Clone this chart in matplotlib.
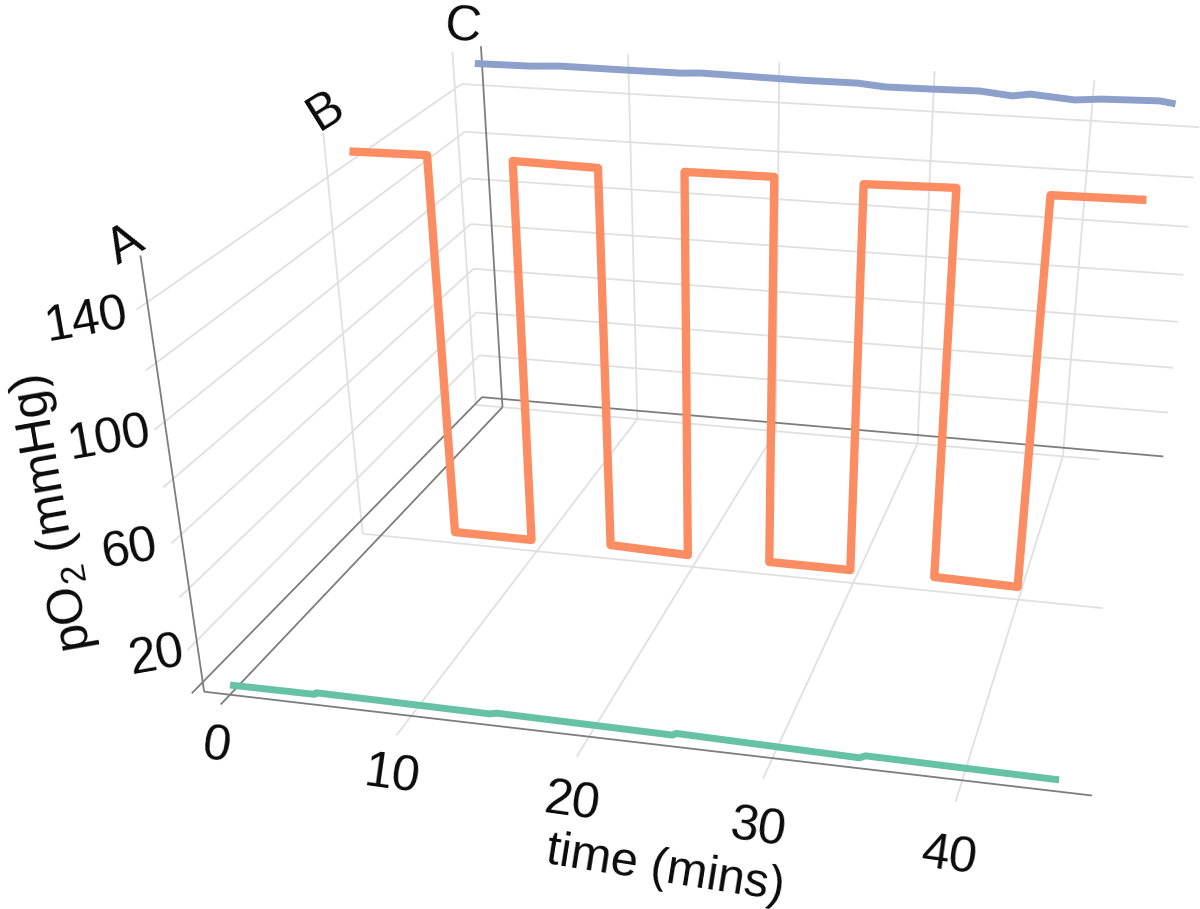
import numpy as np
import matplotlib.pyplot as plt

plt.rcParams['font.family'] = ['Liberation Sans', 'DejaVu Sans']
plt.rcParams['mathtext.default'] = 'regular'

# values
orange_t = [0, 4.7, 4.7, 9.7, 9.8, 14.8, 14.8, 19.7, 19.8, 24.9, 24.8, 29.8, 29.9, 35.0, 34.9, 39.9, 40.1, 45.2]
orange_p = [150, 150.5, 0.8, 0.7, 150.4, 149.9, 1.9, 0.9, 150.5, 150.8, 1.4, 1.4, 150.3, 151.1, 2.0, 1.3, 150.7, 151.2]
blue_t = [-0.5, 3.3, 5.4, 9.8, 13.5, 14.8, 21.4, 25.1, 26.9, 30.0, 32.9, 35.0, 36.1, 38.9, 40.5, 44.1, 45.1]
blue_p = [148.8, 149.0, 149.7, 149.6, 149.6, 150.1, 149.5, 149.6, 148.7, 148.9, 149.2, 148.0, 149.1, 147.8, 148.7, 149.3, 148.5]
green_t = [0.1, 5.0, 5.1, 14.9, 15.3, 24.9, 25.1, 34.8, 35.1, 45.0]
green_p = [3.9, 4.1, 4.8, 4.4, 5.0, 4.4, 5.2, 4.0, 5.0, 4.4]

t_ticks = [0, 10, 20, 30, 40]
p_ticks = [20, 60, 100, 140]
p_grid = [20, 40, 60, 80, 100, 120, 140]
loc_a, loc_b, loc_c = 0, 1, 2
t_start, t_end = -1.5, 46.7
floor_p, top_p = -4, 156

# camera of the original view: (time, location, pO2) -> picture pixels
camera = np.array([[16.71526, 214.4176, -0.50893, 229.69636],
                   [0.88561, -85.69779, -2.99754, 694.69508],
                   [-0.0016, 0.15591, -0.00069, 1.0]])

def project(t, loc, p):
    t, loc, p = np.broadcast_arrays(t, loc, p)
    h = camera @ np.array([t, loc, p, np.ones_like(t)], dtype=float)
    return h[0] / h[2], h[1] / h[2]

fig = plt.figure(figsize=(12, 9.09), dpi=100)
ax = fig.add_axes([0, 0, 1, 1])
ax.set_xlim(0, 1200)
ax.set_ylim(909, 0)
ax.set_axis_off()

light = dict(color='#e0e0e0', lw=1.3, zorder=1)
dark = dict(color='#7d7d7d', lw=1.3, zorder=2)

def seg(a, b, style):
    x, y = project([a[0], b[0]], [a[1], b[1]], [a[2], b[2]])
    ax.plot(x, y, solid_capstyle='butt', **style)

def label(t, loc, p, s, rotation, size=36):
    x, y = project(t, loc, p)
    ax.text(float(x), float(y), s, rotation=rotation, rotation_mode='anchor',
            ha='center', va='center', color='#0a0a0a', fontsize=size)

# grid on the two walls
for p in p_grid:
    seg((t_start, -0.05, p), (t_start, loc_c, p), light)
    seg((t_start, loc_c, p), (t_end, loc_c, p), light)
for t in t_ticks[1:]:
    seg((t, -0.05, floor_p), (t, loc_c, floor_p), light)
    seg((t, loc_c, floor_p), (t, loc_c, top_p), light)
seg((t_start, loc_b, floor_p), (t_start, loc_b, top_p), light)
seg((-2, loc_c, floor_p), (-2, loc_c, 153), light)
seg((t_start, loc_b, floor_p), (45, loc_b, floor_p), light)
seg((-2, loc_c, floor_p), (42.5, loc_c, floor_p), light)

# axis lines
seg((t_start, loc_a, 0), (t_end, loc_a, 0), dark)
seg((t_start, loc_a, 0), (t_start, loc_a, 155), dark)
seg((0, -0.05, 0), (0, loc_c, floor_p), dark)
seg((0, loc_c, floor_p), (0, loc_c, top_p), dark)
seg((-2, -0.02, 0.5), (t_start, loc_c, 0), dark)
seg((t_start, loc_c, 0), (t_end, loc_c, 0), dark)

# the three traces
trace = dict(solid_capstyle='butt', solid_joinstyle='round')
ax.plot(*project(blue_t, loc_c, blue_p), color='#8da0cb', lw=5, zorder=3, **trace)
ax.plot(*project(orange_t, loc_b, orange_p), color='#fc8d62', lw=6, zorder=4, **trace)
ax.plot(*project(green_t, loc_a, green_p), color='#66c2a5', lw=5, zorder=5, **trace)

# labels
for t, pad in zip(t_ticks, [-13, -16, -18, -19, -21]):
    label(t, -0.1, pad, str(t), -8)
for p, t in zip(p_ticks, [-4.0, -4.6, -4.8, -5.0]):
    label(t, loc_a, p - 8, str(p), 10)
label(25, -0.1, -40, 'time (mins)', -9, size=35)
label(-8.7, loc_a, 63, 'pO$_2$ (mmHg)', 100)
label(-2.2, loc_a, 158, 'A', 30)
label(-1.2, loc_b, 164, 'B', 32)
label(-1.2, loc_c, 163, 'C', -5)

fig.savefig('out.png', dpi=100)
